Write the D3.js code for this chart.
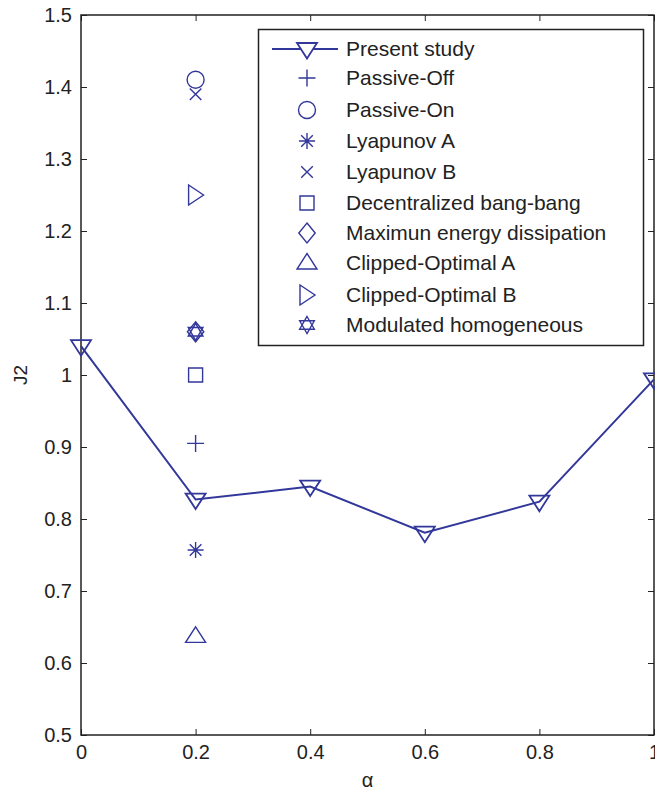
<!DOCTYPE html>
<html>
<head>
<meta charset="utf-8">
<script src="https://cdn.jsdelivr.net/npm/d3@7"></script>
<style>
  body { margin: 0; background: #fff; }
  svg { display: block; font-family: "Liberation Sans", Arial, sans-serif; }
</style>
</head>
<body>
<div id="chart"></div>
<script>
// data
const alphaValues = [0, 0.2, 0.4, 0.6, 0.8, 1];
const presentStudy = [1.04, 0.827, 0.845, 0.781, 0.824, 0.994];

const methodNames = ['Passive-Off', 'Passive-On', 'Lyapunov A', 'Lyapunov B',
  'Decentralized bang-bang', 'Maximun energy dissipation', 'Clipped-Optimal A',
  'Clipped-Optimal B', 'Modulated homogeneous'];
const methodSymbols = ['plus', 'circle', 'asterisk', 'cross', 'square', 'diamond',
  'triUp', 'triRight', 'hexagram'];
const methodAlpha = [0.2, 0.2, 0.2, 0.2, 0.2, 0.2, 0.2, 0.2, 0.2];
const methodJ2 = [0.905, 1.41, 0.757, 1.39, 1.0, 1.06, 0.637, 1.25, 1.06];

const xTicks = [0, 0.2, 0.4, 0.6, 0.8, 1];
const yTicks = [0.5, 0.6, 0.7, 0.8, 0.9, 1, 1.1, 1.2, 1.3, 1.4, 1.5];

const width = 655, height = 790;
const margin = { top: 15, right: 1, bottom: 55, left: 81 };
const blue = '#32379a';
const ink = '#222';

const svg = d3.select('#chart').append('svg')
  .attr('width', width)
  .attr('height', height);

const x = d3.scaleLinear().domain([0, 1]).range([margin.left, width - margin.right]);
const y = d3.scaleLinear().domain([0.5, 1.5]).range([height - margin.bottom, margin.top]);

// marker shapes, centred on 0,0
const symbolPath = (type, s) => {
  const p = d3.path();
  if (type === 'plus') {
    const c = s * 0.85;
    p.moveTo(-c, 0); p.lineTo(c, 0); p.moveTo(0, -c); p.lineTo(0, c);
  } else if (type === 'cross') {
    const c = s * 0.58;
    p.moveTo(-c, -c); p.lineTo(c, c); p.moveTo(-c, c); p.lineTo(c, -c);
  } else if (type === 'asterisk') {
    const a = s * 0.8, c = s * 0.58;
    p.moveTo(-a, 0); p.lineTo(a, 0); p.moveTo(0, -a); p.lineTo(0, a);
    p.moveTo(-c, -c); p.lineTo(c, c); p.moveTo(-c, c); p.lineTo(c, -c);
  } else if (type === 'circle') {
    p.arc(0, 0, s * 0.85, 0, 2 * Math.PI);
  } else if (type === 'square') {
    const c = s * 0.7;
    p.rect(-c, -c, 2 * c, 2 * c);
  } else if (type === 'diamond') {
    p.moveTo(0, -s); p.lineTo(s * 0.82, 0); p.lineTo(0, s); p.lineTo(-s * 0.82, 0); p.closePath();
  } else if (type === 'triUp') {
    p.moveTo(0, -s * 0.95); p.lineTo(s, s * 0.6); p.lineTo(-s, s * 0.6); p.closePath();
  } else if (type === 'triDown') {
    p.moveTo(0, s * 0.95); p.lineTo(s, -s * 0.6); p.lineTo(-s, -s * 0.6); p.closePath();
  } else if (type === 'triRight') {
    p.moveTo(s * 0.8, 0); p.lineTo(-s * 0.7, -s); p.lineTo(-s * 0.7, s); p.closePath();
  } else if (type === 'hexagram') {
    const r = s * 0.85;
    const tri = a0 => {
      for (let i = 0; i < 3; i++) {
        const a = a0 + i * 2 * Math.PI / 3;
        if (i === 0) p.moveTo(r * Math.cos(a), r * Math.sin(a));
        else p.lineTo(r * Math.cos(a), r * Math.sin(a));
      }
      p.closePath();
    };
    tri(-Math.PI / 2);
    tri(Math.PI / 2);
  }
  return p.toString();
};

// axes: ticks pointing inward on all four sides
const fmt = d => String(+d.toFixed(1));
const plotW = width - margin.right - margin.left;
const plotH = height - margin.bottom - margin.top;

const axisB = svg.append('g')
  .attr('transform', `translate(0,${height - margin.bottom})`)
  .call(d3.axisBottom(x).tickValues(xTicks).tickSize(-6).tickPadding(10).tickFormat(fmt));
const axisL = svg.append('g')
  .attr('transform', `translate(${margin.left},0)`)
  .call(d3.axisLeft(y).tickValues(yTicks).tickSize(-6).tickPadding(9).tickFormat(fmt));
const axisT = svg.append('g')
  .attr('transform', `translate(0,${margin.top})`)
  .call(d3.axisTop(x).tickValues(xTicks).tickSize(-6).tickFormat(''));
const axisR = svg.append('g')
  .attr('transform', `translate(${width - margin.right},0)`)
  .call(d3.axisRight(y).tickValues(yTicks).tickSize(-6).tickFormat(''));

[axisB, axisL, axisT, axisR].forEach(g => {
  g.select('.domain').remove();
  g.selectAll('line').attr('stroke', ink).attr('stroke-width', 1);
  g.selectAll('text').attr('fill', ink).attr('font-size', 20)
    .attr('font-family', '"Liberation Sans", Arial, sans-serif');
});

svg.append('rect')
  .attr('x', margin.left).attr('y', margin.top)
  .attr('width', plotW).attr('height', plotH)
  .attr('fill', 'none').attr('stroke', ink).attr('stroke-width', 1.5);

// axis titles
svg.append('text')
  .attr('x', x(0.5)).attr('y', 787)
  .attr('text-anchor', 'middle')
  .attr('font-size', 20).attr('fill', ink)
  .text('α');
svg.append('text')
  .attr('transform', `translate(27,${y(1)}) rotate(-90)`)
  .attr('text-anchor', 'middle')
  .attr('font-size', 19).attr('fill', ink)
  .text('J2');

// present study line
const line = d3.line()
  .x((d, i) => x(alphaValues[i]))
  .y(d => y(d));

svg.append('path')
  .datum(presentStudy)
  .attr('d', line)
  .attr('fill', 'none')
  .attr('stroke', blue)
  .attr('stroke-width', 2);

svg.selectAll('.ps-marker')
  .data(presentStudy)
  .enter().append('path')
    .attr('class', 'ps-marker')
    .attr('transform', (d, i) => `translate(${x(alphaValues[i])},${y(d)})`)
    .attr('d', symbolPath('triDown', 10))
    .attr('fill', 'none')
    .attr('stroke', blue)
    .attr('stroke-width', 1.8);

// other methods
svg.selectAll('.method')
  .data(methodJ2)
  .enter().append('path')
    .attr('class', 'method')
    .attr('transform', (d, i) => `translate(${x(methodAlpha[i])},${y(d)})`)
    .attr('d', (d, i) => symbolPath(methodSymbols[i], 10))
    .attr('fill', 'none')
    .attr('stroke', blue)
    .attr('stroke-width', 1.4);

// legend
const legend = svg.append('g');
legend.append('rect')
  .attr('x', 258.5).attr('y', 29.5)
  .attr('width', 385).attr('height', 316)
  .attr('fill', '#fff').attr('stroke', ink).attr('stroke-width', 1.5);

const legendNames = ['Present study'].concat(methodNames);
const legendSymbols = ['triDown'].concat(methodSymbols);
const rowY = [49, 78, 110, 141, 172, 203, 233, 263, 295, 325];

legend.append('line')
  .attr('x1', 272).attr('x2', 338)
  .attr('y1', rowY[0]).attr('y2', rowY[0])
  .attr('stroke', blue).attr('stroke-width', 2);

legendNames.forEach((name, i) => {
  legend.append('path')
    .attr('transform', `translate(307,${rowY[i]})`)
    .attr('d', symbolPath(legendSymbols[i], 10))
    .attr('fill', i === 0 ? '#fff' : 'none')
    .attr('stroke', blue)
    .attr('stroke-width', i === 0 ? 1.8 : 1.4);
  legend.append('text')
    .attr('x', 346).attr('y', rowY[i])
    .attr('dy', '0.35em')
    .attr('font-size', 21).attr('fill', ink)
    .text(name);
});
</script>
</body>
</html>
